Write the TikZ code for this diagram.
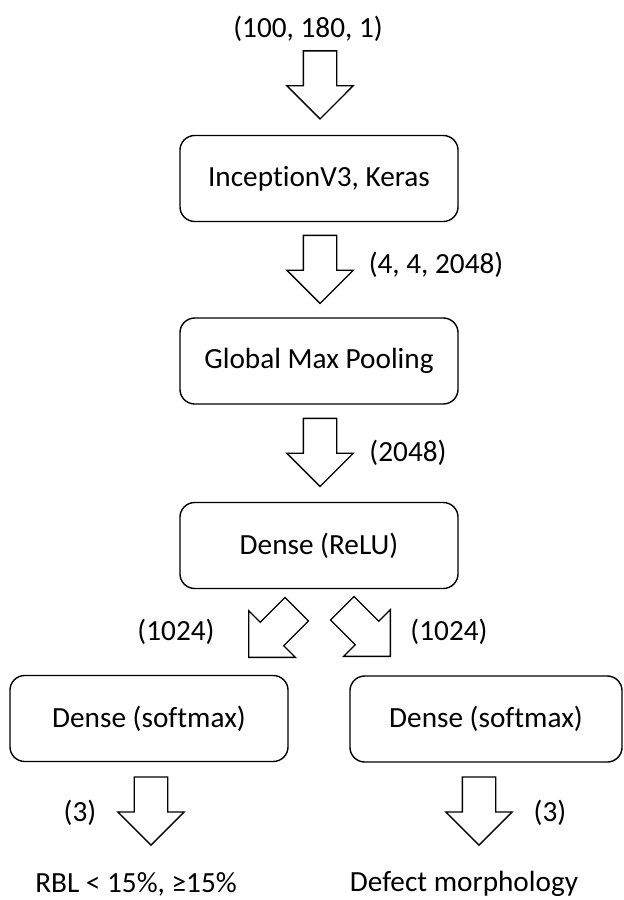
\documentclass[tikz,border=0pt]{standalone}
\usepackage{fontspec}
\setmainfont[Ligatures=NoCommon]{Carlito}
\usetikzlibrary{shapes.arrows,calc}
\tikzset{
  >=latex,
}
\tikzstyle{layer}=[draw,line width=1pt,rounded corners=0.37cm,minimum height=2.15cm,minimum width=6.95cm]
\tikzstyle{flow}=[single arrow,draw,line width=0.9pt,fill=white,minimum height=1.7cm,inner xsep=0pt,inner ysep=0.4cm,single arrow head extend=0.41cm,anchor=tip]
\tikzstyle{every node}=[font=\fontsize{20.8}{25}\selectfont]

\begin{document}
\begin{tikzpicture}[x=0.025cm,y=-0.025cm]
        \useasboundingbox (0,0) rectangle (624,900);
        \node (inp) at (308,29) {(100, 180, 1)};
        \node[layer] (inc) at (319,178.5) {InceptionV3, Keras};
        \node[layer] (gmp) at (319,361) {Global Max Pooling};
        \node[layer] (relu) at (319,545.5) {Dense (ReLU)};
        \node[layer,minimum width=6.95cm] (rbl) at (149,718.5) {Dense (softmax)};
        \node[layer,minimum width=6.8cm] (morph) at (486,719) {Dense (softmax)};
        \node[inner sep=0pt] (outrbl) at (136,884) {RBL < 15\%, ≥15\%};
        \node[inner sep=0pt] (outmorph) at (464,884) {Defect morphology};
        % block arrows, tip just short of the next box
        \node[flow,rotate=-90] (a1) at ($(inc.north)+(1,-15)$) {};
        \node[flow,rotate=-90] (a2) at ($(gmp.north)+(1,-13)$) {};
        \node[flow,rotate=-90] (a3) at ($(relu.north)+(1,-14.5)$) {};
        \node[flow,rotate=-135] (a4) at (248,658) {};
        \node[flow,rotate=-45] (a5) at (391,657) {};
        \node[flow,rotate=-90] (a6) at (151,846) {};
        \node[flow,rotate=-90] (a7) at (479,846) {};
        % shapes
        \node (s2) at (436,265) {(4, 4, 2048)};
        \node (s3) at (408,453) {(2048)};
        \node (s4) at (176,632) {(1024)};
        \node (s5) at (449,632) {(1024)};
        \node (s6) at (80,813) {(3)};
        \node (s7) at (550,813) {(3)};
      \end{tikzpicture}
\end{document}
